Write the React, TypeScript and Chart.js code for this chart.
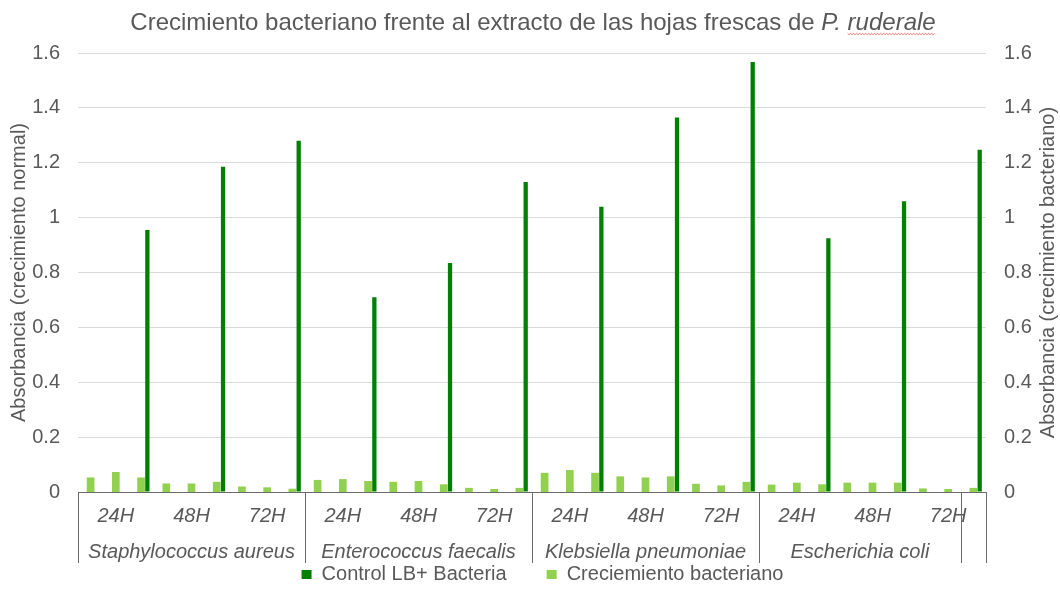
import React, { useEffect, useRef } from 'react';
import { Chart, registerables } from 'chart.js';

Chart.register(...registerables);

// ---------- data ----------
const times = ['24H', '48H', '72H'];
const replicatesPerTime = 3;
const bacteria = ['Staphylococcus aureus', 'Enterococcus faecalis', 'Klebsiella pneumoniae', 'Escherichia coli', ''];
const bacteriaSpans = [9, 9, 9, 8, 1];

// "Creciemiento bacteriano" (3 replicates per time point)
const growthValues = [
  0.053, 0.073, 0.053, 0.031, 0.031, 0.037, 0.020, 0.017, 0.012,
  0.044, 0.047, 0.040, 0.037, 0.040, 0.028, 0.015, 0.011, 0.015,
  0.070, 0.080, 0.070, 0.057, 0.053, 0.057, 0.030, 0.024, 0.037,
  0.027, 0.034, 0.028, 0.034, 0.034, 0.034, 0.013, 0.011, 0.015,
];

// "Control LB+ Bacteria" (one per time point)
const controlValues = [0.955, 1.185, 1.28, 0.71, 0.835, 1.13, 1.04, 1.365, 1.567, 0.925, 1.06, 1.247];

const yMin = 0;
const yMax = 1.6;
const yStep = 0.2;

const titleMain = 'Crecimiento bacteriano frente al extracto de las hojas frescas de ';
const titleItalic = 'P. ruderale';
const leftAxisTitle = 'Absorbancia (crecimiento normal)';
const rightAxisTitle = 'Absorbancia (crecimiento bacteriano)';

// ---------- style ----------
const FONT = "'Liberation Sans', Arial, sans-serif";
const GREY = '#595959';
const AXIS = '#6b6b6b';
const GRID = '#d9d9d9';
const DARK = '#008000';
const LIGHT = '#92D050';

// ---------- derived tables ----------
const categoryLabels = growthValues.map((_, i) => times[Math.floor(i / replicatesPerTime) % times.length]);
// half-slot axis for the control bars (they sit in the right half of the last replicate slot)
const halfSlotLabels = growthValues.flatMap((_, i) => [`${i}a`, `${i}b`]);
const controlHalfSlotData = growthValues.flatMap((_, i) => [
  null,
  i % replicatesPerTime === replicatesPerTime - 1 ? controlValues[(i - (replicatesPerTime - 1)) / replicatesPerTime] : null,
]);

const decorPlugin = {
  id: 'decor',
  afterDraw(chart: any) {
    const { ctx, chartArea } = chart;
    const x = chart.scales.x;
    ctx.save();

    // Title with italic species name
    ctx.fillStyle = GREY;
    ctx.textBaseline = 'alphabetic';
    ctx.textAlign = 'left';
    ctx.font = `24px ${FONT}`;
    const w1 = ctx.measureText(titleMain).width;
    ctx.font = `italic 24px ${FONT}`;
    const w2 = ctx.measureText(titleItalic).width;
    const wP = ctx.measureText('P. ').width;
    const cx = (chartArea.left + chartArea.right) / 2 + 1;
    const tx = cx - (w1 + w2) / 2;
    const ty = 30;
    ctx.font = `24px ${FONT}`;
    ctx.fillText(titleMain, tx, ty);
    ctx.font = `italic 24px ${FONT}`;
    ctx.fillText(titleItalic, tx + w1, ty);
    // spell-check squiggle under "ruderale"
    ctx.strokeStyle = '#e23b3b';
    ctx.lineWidth = 0.7;
    ctx.beginPath();
    let k = 0;
    for (let px = tx + w1 + wP; px <= tx + w1 + w2; px += 1.5, k++) {
      const py = ty + 4 + (k % 2 ? 0.7 : -0.7);
      if (k === 0) ctx.moveTo(px, py); else ctx.lineTo(px, py);
    }
    ctx.stroke();

    // Axis titles (both read bottom-to-top)
    ctx.fillStyle = GREY;
    ctx.font = `20px ${FONT}`;
    ctx.textAlign = 'center';
    ctx.textBaseline = 'middle';
    const cy = (chartArea.top + chartArea.bottom) / 2;
    ([[19, leftAxisTitle], [1048, rightAxisTitle]] as [number, string][]).forEach(([px, t]) => {
      ctx.save();
      ctx.translate(px, cy);
      ctx.rotate(-Math.PI / 2);
      ctx.fillText(t, 0, 0);
      ctx.restore();
    });

    // Multi-level category axis: group separators and bacteria names
    const unit = (x.right - x.left) / growthValues.length;
    const top = chartArea.bottom;
    const bottom = chartArea.bottom + 71;
    ctx.strokeStyle = AXIS;
    ctx.lineWidth = 1;
    const sep = (px: number) => {
      const sx = Math.round(px) + 0.5;
      ctx.beginPath();
      ctx.moveTo(sx, top);
      ctx.lineTo(sx, bottom);
      ctx.stroke();
    };
    sep(x.left);
    let acc = 0;
    ctx.font = `italic 20px ${FONT}`;
    ctx.textBaseline = 'alphabetic';
    ctx.fillStyle = GREY;
    bacteria.forEach((name, i) => {
      const start = x.left + acc * unit;
      acc += bacteriaSpans[i];
      const end = x.left + acc * unit;
      sep(end);
      if (name) ctx.fillText(name, (start + end) / 2, top + 66);
    });
    ctx.restore();
  },
};

const yTickCallback = (v: any) => String(Math.round(Number(v) * 10) / 10);

export default function App() {
  const ref = useRef<HTMLCanvasElement | null>(null);

  useEffect(() => {
    if (!ref.current) return;
    const chart = new Chart(ref.current, {
      type: 'bar',
      data: {
        labels: categoryLabels,
        datasets: [
          {
            label: 'Control LB+ Bacteria',
            data: controlHalfSlotData as any,
            backgroundColor: DARK,
            borderWidth: 0,
            xAxisID: 'x2',
            yAxisID: 'y',
            grouped: false,
            categoryPercentage: 1,
            barPercentage: 0.34,
          },
          {
            label: 'Creciemiento bacteriano',
            data: growthValues,
            backgroundColor: LIGHT,
            borderWidth: 0,
            xAxisID: 'x',
            yAxisID: 'y2',
            grouped: false,
            categoryPercentage: 1,
            barPercentage: 0.305,
          },
        ],
      },
      options: {
        animation: false,
        responsive: true,
        maintainAspectRatio: false,
        layout: { padding: { left: 25, right: 0, top: 53, bottom: 2.5 } },
        plugins: {
          title: { display: false },
          tooltip: { enabled: false },
          legend: {
            position: 'bottom',
            labels: {
              boxWidth: 10,
              boxHeight: 9,
              padding: 40,
              color: GREY,
              font: { size: 20, family: FONT },
            },
          },
        },
        scales: {
          x: {
            type: 'category',
            position: 'bottom',
            offset: true,
            grid: { display: false, drawTicks: false },
            border: { display: true, color: AXIS },
            ticks: {
              autoSkip: false,
              maxRotation: 0,
              minRotation: 0,
              padding: 12,
              color: GREY,
              font: { size: 20, style: 'italic', family: FONT },
              callback: (_v: any, i: number) => (i % replicatesPerTime === 1 ? categoryLabels[i] : ''),
            },
            afterFit: (s: any) => { s.height = 32.5; },
          },
          x2: {
            type: 'category',
            labels: halfSlotLabels,
            display: false,
            offset: true,
            grid: { display: false },
          },
          y: {
            position: 'left',
            min: yMin,
            max: yMax,
            grid: {
              drawTicks: false,
              color: (c: any) => (c.tick && c.tick.value === 0 ? AXIS : GRID),
            },
            border: { display: false },
            ticks: { stepSize: yStep, padding: 18, color: GREY, font: { size: 20, family: FONT }, callback: yTickCallback },
            afterFit: (s: any) => { s.width = 53; },
          },
          y2: {
            position: 'right',
            min: yMin,
            max: yMax,
            grid: { display: false, drawTicks: false },
            border: { display: false },
            ticks: { stepSize: yStep, padding: 18, color: GREY, font: { size: 20, family: FONT }, callback: yTickCallback },
            afterFit: (s: any) => { s.width = 74; },
          },
        },
      } as any,
      plugins: [decorPlugin],
    });
    return () => chart.destroy();
  }, []);

  return (
    <div style={{ position: 'fixed', left: 0, top: 0, width: 1060, height: 597, background: '#fff' }}>
      <canvas ref={ref} />
    </div>
  );
}
